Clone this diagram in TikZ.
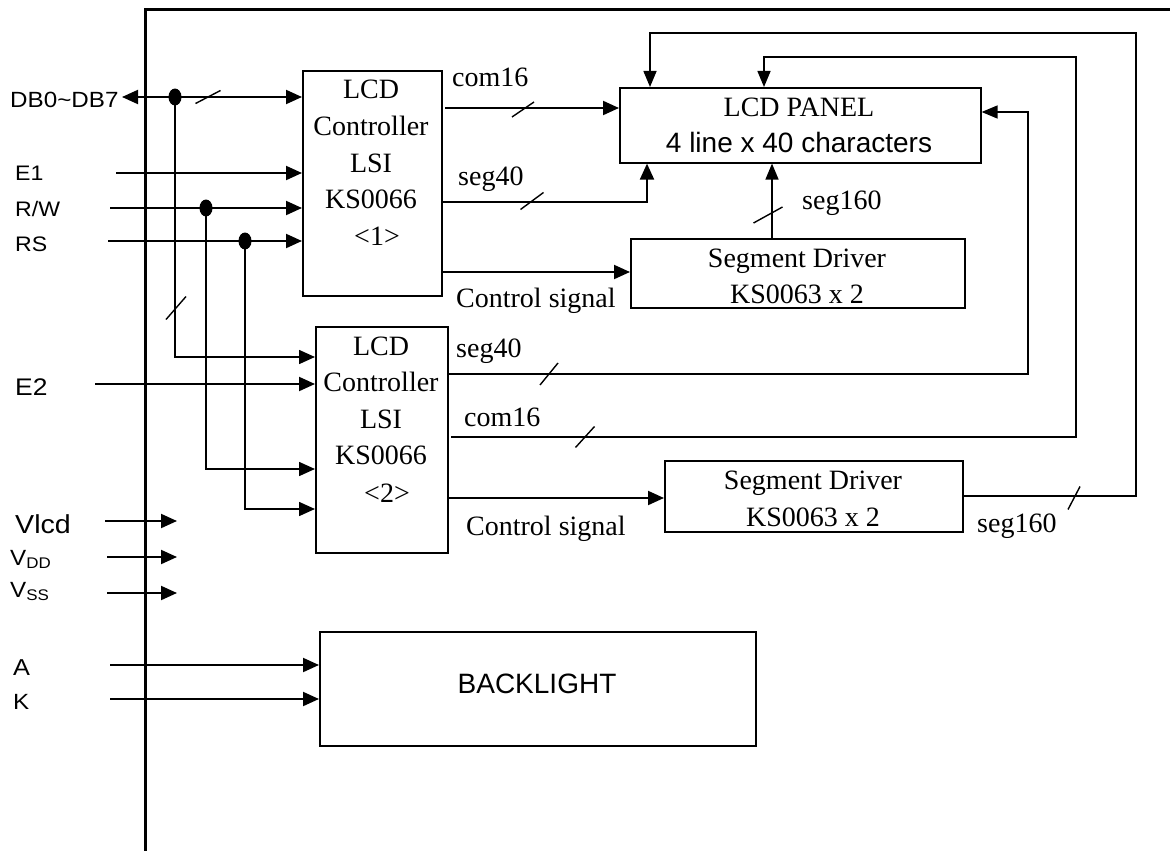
\documentclass[tikz,border=0pt]{standalone}
\usepackage{fontspec}
\setmainfont{Liberation Serif}
\setsansfont{Liberation Sans}
\newfontfamily\lsans[FakeStretch=1.1]{Liberation Sans}
\usetikzlibrary{arrows.meta,shapes.geometric}
\begin{document}
\begin{tikzpicture}[x=1pt,y=-1pt,
 box/.style={draw, line width=1.6pt, inner sep=0, anchor=north west},
 conn/.style={line width=2pt, -{Triangle[length=16pt,width=14pt]}},
 dbl/.style={line width=2pt, {Triangle[length=16pt,width=14pt]}-{Triangle[length=16pt,width=14pt]}},
 loopw/.style={line width=1.5pt, -{Triangle[length=16pt,width=13pt]}},
 wire/.style={line width=1.6pt},
 slash/.style={line width=1.4pt},
 serif/.style={font=\fontsize{28}{34}\selectfont, inner sep=0},
 sanslbl/.style={font=\lsans\fontsize{21}{25}\selectfont, inner sep=0, anchor=base west},
 dot/.style={ellipse, fill, minimum width=13pt, minimum height=17pt, inner sep=0}]
\useasboundingbox (0,0) rectangle (1170,851);
\fill[white] (0,0) rectangle (1170,851);
% frame
\draw[line width=3pt] (145,860) -- (145,10) -- (1180,10);
% boxes
\node[box, minimum width=139pt, minimum height=225pt] (c1) at (302,70) {};
\node[box, minimum width=132pt, minimum height=226pt] (c2) at (315,326) {};
\node[box, minimum width=361pt, minimum height=75pt] (panel) at (619,87) {};
\node[box, minimum width=334pt, minimum height=69pt] (sd1) at (630,238) {};
\node[box, minimum width=298pt, minimum height=71pt] (sd2) at (664,460) {};
\node[box, minimum width=436pt, minimum height=114pt] (bl) at (319,631) {};
% box texts
\foreach \t/\y [count=\i] in {LCD/99, Controller/135, LSI/172, KS0066/208}
  \node[serif, anchor=base] (c1t\i) at (371,\y) {\t};
\node[serif, anchor=base] (c1t5) at (377,245) {<1>};
\foreach \t/\y [count=\i] in {LCD/355, Controller/391, LSI/428, KS0066/464}
  \node[serif, anchor=base] (c2t\i) at (381,\y) {\t};
\node[serif, anchor=base] (c2t5) at (387,502) {<2>};
\node[serif, anchor=base] (pt1) at (799,116) {LCD PANEL};
\node[inner sep=0, anchor=base, font=\sffamily\fontsize{28}{34}\selectfont] (pt2) at (799,152) {4 line x 40 characters};
\node[serif, anchor=base] (sd1a) at (797,267) {Segment Driver};
\node[serif, anchor=base] (sd1b) at (797,303) {KS0063 x 2};
\node[serif, anchor=base] (sd2a) at (813,489) {Segment Driver};
\node[serif, anchor=base] (sd2b) at (813,526) {KS0063 x 2};
\node[inner sep=0, anchor=base, font=\sffamily\fontsize{28}{32}\selectfont] (blt) at (537,693) {BACKLIGHT};
% connector labels
\node[serif, anchor=base west] (l1) at (452,87) {com16};
\node[serif, anchor=base west] (l2) at (458,185) {seg40};
\node[serif, anchor=base west] (l3) at (456,307) {Control signal};
\node[serif, anchor=base west] (l4) at (802,209) {seg160};
\node[serif, anchor=base west] (l5) at (456,357) {seg40};
\node[serif, anchor=base west] (l6) at (464,426) {com16};
\node[serif, anchor=base west] (l7) at (466,535) {Control signal};
\node[serif, anchor=base west] (l8) at (977,532) {seg160};
% pin labels
\node[sanslbl, font=\lsans\fontsize{22}{26}\selectfont] (pdb) at (10,107) {DB0\textasciitilde DB7};
\node[sanslbl] (pe1) at (15,180) {E1};
\node[sanslbl] (prw) at (15,216) {R/W};
\node[sanslbl] (prs) at (15,251) {RS};
\node[sanslbl, font=\lsans\fontsize{24}{28}\selectfont] (pe2) at (15,395) {E2};
\node[sanslbl, font=\lsans\fontsize{26}{30}\selectfont] (pvl) at (15,533) {Vlcd};
\node[sanslbl, font=\lsans\fontsize{22}{26}\selectfont] (pvd) at (10,565) {V\textsubscript{DD}};
\node[sanslbl, font=\lsans\fontsize{22}{26}\selectfont] (pvs) at (10,597) {V\textsubscript{SS}};
\node[sanslbl, font=\lsans\fontsize{23}{27}\selectfont] (pa) at (13,675) {A};
\node[sanslbl, font=\lsans\fontsize{22}{26}\selectfont] (pk) at (13,709) {K};
% input connectors
\coordinate (db) at (122,97);
\draw[dbl] (db) -- (db -| c1.west);
\coordinate (e1) at (116,173);
\draw[conn] (e1) -- (e1 -| c1.west);
\coordinate (rw) at (110,208);
\draw[conn] (rw) -- (rw -| c1.west);
\coordinate (rs) at (108,241);
\draw[conn] (rs) -- (rs -| c1.west);
\node[dot] (d1) at (175,97) {};
\node[dot] (d2) at (206,208) {};
\node[dot] (d3) at (245,241) {};
\coordinate (b1) at (175,357);
\coordinate (b2) at (206,469);
\coordinate (b3) at (245,509);
\draw[wire, -{Triangle[length=16pt,width=14pt]}] (d1.center) -- (b1) -- (b1 -| c2.west);
\draw[wire, -{Triangle[length=16pt,width=14pt]}] (d2.center) -- (b2) -- (b2 -| c2.west);
\draw[wire, -{Triangle[length=16pt,width=14pt]}] (d3.center) -- (b3) -- (b3 -| c2.west);
\coordinate (e2) at (95,384);
\draw[conn] (e2) -- (e2 -| c2.west);
\coordinate (vl0) at (105,521); \coordinate (vl1) at (177,521);
\draw[conn] (vl0) -- (vl1);
\coordinate (vd0) at (107,557); \coordinate (vd1) at (177,557);
\draw[conn] (vd0) -- (vd1);
\coordinate (vs0) at (107,593); \coordinate (vs1) at (177,593);
\draw[conn] (vs0) -- (vs1);
\coordinate (a0) at (110,665);
\draw[conn] (a0) -- (a0 -| bl.west);
\coordinate (k0) at (110,699);
\draw[conn] (k0) -- (k0 -| bl.west);
% controller 1 outputs
\coordinate (o1) at (445,108);
\draw[conn] (o1) -- (o1 -| panel.west);
\coordinate (o2) at (647,202);
\draw[conn] (c1.east |- o2) -- (o2) -- (o2 |- panel.south);
\coordinate (o3) at (0,272);
\draw[conn] (c1.east |- o3) -- (sd1.west |- o3);
\coordinate (o4) at (772,0);
\draw[loopw] (sd1.north -| o4) -- (panel.south -| o4);
% controller 2 outputs
\coordinate (r3) at (1028,374); \coordinate (r3t) at (1028,112);
\draw[loopw] (c2.east |- r3) -- (r3) -- (r3t) -- (panel.east |- r3t);
\coordinate (r2s) at (451,437); \coordinate (r2) at (1076,437); \coordinate (r2t) at (1076,57); \coordinate (r2p) at (764,57);
\draw[loopw] (r2s) -- (r2) -- (r2t) -- (r2p) -- (r2p |- panel.north);
\coordinate (cs2) at (0,498);
\draw[conn] (c2.east |- cs2) -- (sd2.west |- cs2);
\coordinate (r1) at (1136,496); \coordinate (r1t) at (1136,33); \coordinate (r1p) at (650,33);
\draw[loopw] (sd2.east |- r1) -- (r1) -- (r1t) -- (r1p) -- (r1p |- panel.north);
% bus slashes
\draw[slash] (208,97) ++(-12.5,6.5) -- ++(25,-13);
\draw[slash] (523,109.5) ++(-11,7.5) -- ++(22,-15);
\draw[slash] (532,201) ++(-11.5,8.5) -- ++(23,-17);
\draw[slash] (176,308) ++(-10,11.5) -- ++(20,-23);
\draw[slash] (768,215) ++(-14.5,8) -- ++(29,-16);
\draw[slash] (549,374) ++(-9,11) -- ++(18,-22);
\draw[slash] (585,437) ++(-9.5,10.5) -- ++(19,-21);
\draw[slash] (1074,498) ++(-6,11.5) -- ++(12,-23);
\end{tikzpicture}
\end{document}
